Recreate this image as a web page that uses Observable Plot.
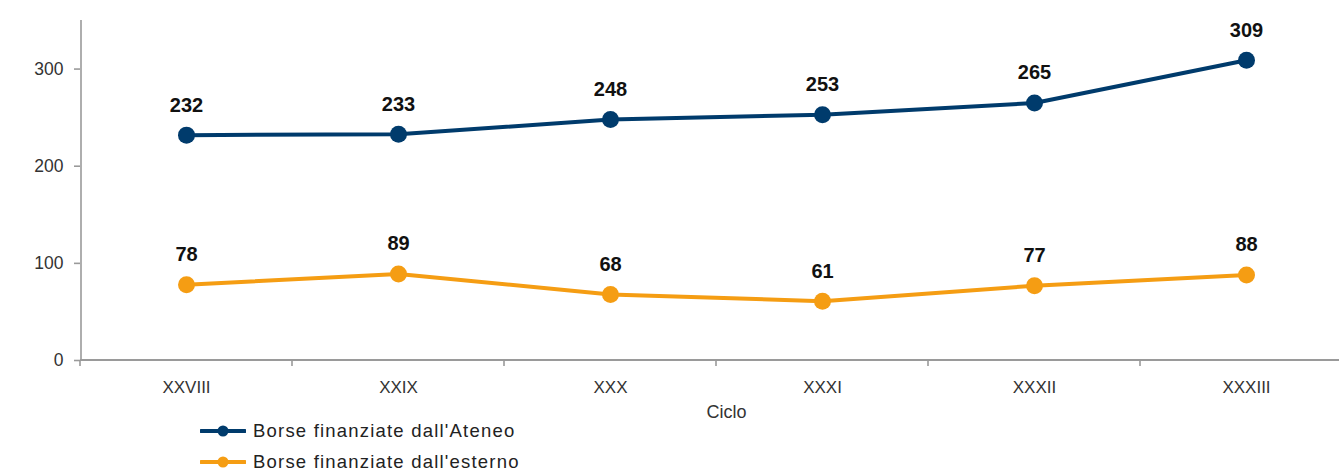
<!DOCTYPE html>
<html>
<head>
<meta charset="utf-8">
<script src="https://cdn.jsdelivr.net/npm/d3@7"></script>
<script src="https://cdn.jsdelivr.net/npm/@observablehq/plot@0.6"></script>
<style>
  html, body { margin: 0; padding: 0; background: #fff; overflow: hidden; }
  #chart { width: 1339px; }
  .legend { font-family: "Liberation Sans", Arial, sans-serif; font-size: 18.5px; color: #222; letter-spacing: 1.2px; margin-top: -5px; }
  .legend .row { display: flex; align-items: center; height: 31px; margin-left: 200px; }
  .legend svg { margin-right: 7px; }
</style>
</head>
<body>
<div id="chart"></div>
<script>
// ---- data ----
const cicli = ["XXVIII", "XXIX", "XXX", "XXXI", "XXXII", "XXXIII"];
const ateneo = [232, 233, 248, 253, 265, 309];
const esterno = [78, 89, 68, 61, 77, 88];
const seriesNames = ["Borse finanziate dall'Ateneo", "Borse finanziate dall'esterno"];
const yTicks = [0, 100, 200, 300];
const colors = ["#003b6c", "#f59d13"];

const rows = [
  ...cicli.map((c, i) => ({ciclo: c, value: ateneo[i], serie: seriesNames[0]})),
  ...cicli.map((c, i) => ({ciclo: c, value: esterno[i], serie: seriesNames[1]}))
];

// Axis lines and boundary ticks drawn from the scales
function axesFrame(index, scales, values, dims) {
  const {x, y} = scales;
  const g = d3.create("svg:g").attr("stroke", "#9a9a9a").attr("fill", "none");
  const pos = cicli.map(c => x(c));
  const step = pos[1] - pos[0];
  const y0 = y(0), yTop = dims.marginTop;
  const xLeft = pos[0] - step / 2;
  g.append("line").attr("x1", xLeft + 1).attr("x2", xLeft + 1).attr("y1", yTop).attr("y2", y0).attr("stroke-width", 1.6);
  g.append("line").attr("x1", xLeft).attr("x2", pos[pos.length - 1] + step / 2).attr("y1", y0).attr("y2", y0).attr("stroke-width", 2);
  for (let i = 0; i <= pos.length; i++) {
    const bx = pos[0] + (i - 0.5) * step;
    g.append("line").attr("x1", bx).attr("x2", bx).attr("y1", y0).attr("y2", y0 + 6).attr("stroke-width", 1.6);
  }
  return g.node();
}

const chart = Plot.plot({
  width: 1339,
  height: 420,
  marginLeft: 80,
  marginRight: -13,
  marginTop: 20,
  marginBottom: 60,
  style: {fontFamily: "Liberation Sans, Arial, sans-serif", color: "#333", background: "#fff", overflow: "visible"},
  x: {type: "point", domain: cicli, padding: 0.5},
  y: {domain: [0, 350]},
  color: {domain: seriesNames, range: colors},
  marks: [
    Plot.axisY({ticks: yTicks, tickSize: 6, tickPadding: 11, fontSize: 17.5, label: null, stroke: "#9a9a9a", strokeWidth: 1.6, tickFormat: d => d}),
    Plot.axisX({tickSize: 0, tickPadding: 20, fontSize: 17, label: null, style: {letterSpacing: "0.6px"}}),
    Plot.text(["Ciclo"], {frameAnchor: "bottom", dy: 57, dx: 10, fontSize: 18, fill: "#333"}),
    axesFrame,
    Plot.line(rows, {x: "ciclo", y: "value", z: "serie", stroke: "serie", strokeWidth: 4}),
    Plot.dot(rows, {x: "ciclo", y: "value", fill: "serie", r: 8.5}),
    Plot.text(rows, {x: "ciclo", y: "value", text: d => d.value, dy: -30, fontSize: 20, fontWeight: "bold", fill: "#111"})
  ]
});
document.getElementById("chart").appendChild(chart);

// legend
const legend = d3.select("body").append("div").attr("class", "legend");
seriesNames.forEach((name, i) => {
  const row = legend.append("div").attr("class", "row");
  const s = row.append("svg").attr("width", 46).attr("height", 20);
  s.append("line").attr("x1", 1).attr("x2", 45).attr("y1", 10).attr("y2", 10).attr("stroke", colors[i]).attr("stroke-width", 4).attr("stroke-linecap", "round");
  s.append("circle").attr("cx", 23).attr("cy", 10).attr("r", 5.5).attr("fill", colors[i]);
  row.append("span").text(name);
});
</script>
</body>
</html>
